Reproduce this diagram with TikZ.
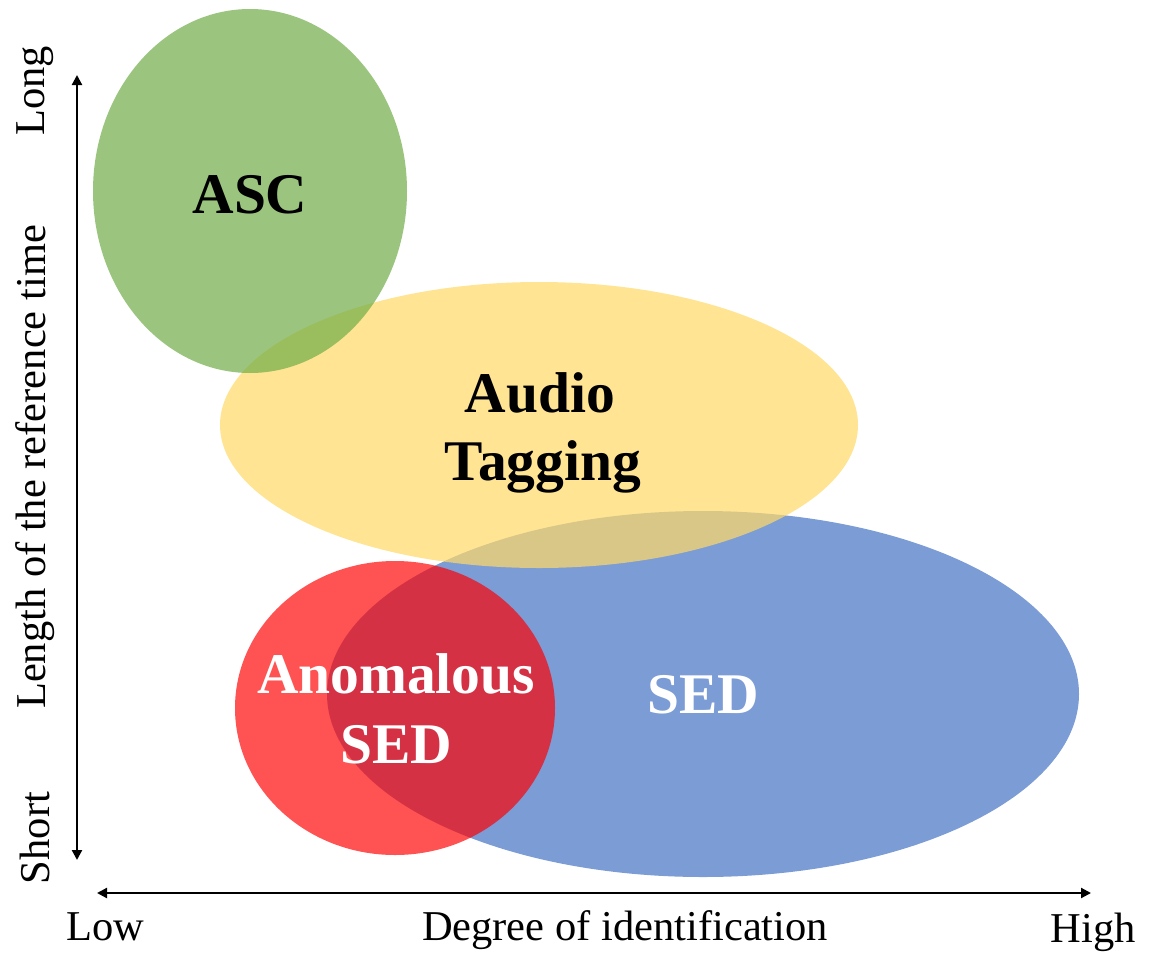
\documentclass[tikz,border=0pt]{standalone}
\usepackage{fontspec}
\setmainfont{Liberation Serif}
\usetikzlibrary{arrows.meta}
\definecolor{ascgreen}{HTML}{70AD47}
\definecolor{tagyellow}{HTML}{FFD966}
\definecolor{sedblue}{HTML}{4472C4}
\definecolor{anored}{HTML}{FF0000}
\tikzset{
  region/.style={draw=none, fill opacity=0.7},
  biglabel/.style={font=\fontsize{57.5}{68}\selectfont\bfseries, anchor=base, inner sep=0pt, align=center},
  axislabel/.style={font=\fontsize{42.5}{50}\selectfont, inner sep=0pt},
  axisarrow/.style={line width=2.2pt, {Triangle[length=10pt,width=10pt]}-{Triangle[length=10pt,width=10pt]}}
}
\begin{document}
\begin{tikzpicture}[x=1pt,y=-1pt]
  \useasboundingbox (0,0) rectangle (1151,956);

  % overlapping task regions
  \fill[region, sedblue]    (703,694) ellipse [x radius=376, y radius=183];
  \fill[region, tagyellow]  (539,425) ellipse [x radius=319, y radius=143];
  \fill[region, anored, fill opacity=0.68] (395,708) ellipse [x radius=160, y radius=147];
  \fill[region, ascgreen]   (250,191) ellipse [x radius=157, y radius=182];

  % region labels
  \node[biglabel] (asc) at (250,213) {ASC};
  \node[biglabel] (audio) at (540,412) {Audio};
  \node[biglabel] (tagging) at (543,480) {Tagging};
  \node[biglabel, text=white] (anomalous) at (396,693) {Anomalous};
  \node[biglabel, text=white] (anosed) at (396,763) {SED};
  \node[biglabel, text=white] (sed) at (703,713) {SED};

  % axes
  \coordinate (ytop) at (77,75);
  \coordinate (ybot) at (77,860);
  \coordinate (xleft) at (97,893);
  \coordinate (xright) at (1091,893);
  \draw[axisarrow] (ytop) -- (ybot);
  \draw[axisarrow] (xleft) -- (xright);

  % axis labels
  \node[axislabel, rotate=90] (long) at (35,91) {Long};
  \node[axislabel, rotate=90] (ylab) at (35,467) {Length of the reference time};
  \node[axislabel, rotate=90] (short) at (35,838) {Short};
  \node[axislabel, anchor=base] (low) at (105,940) {Low};
  \node[axislabel, anchor=base] (xlab) at (625,940) {Degree of identification};
  \node[axislabel, anchor=base] (high) at (1093,942) {High};
\end{tikzpicture}
\end{document}
